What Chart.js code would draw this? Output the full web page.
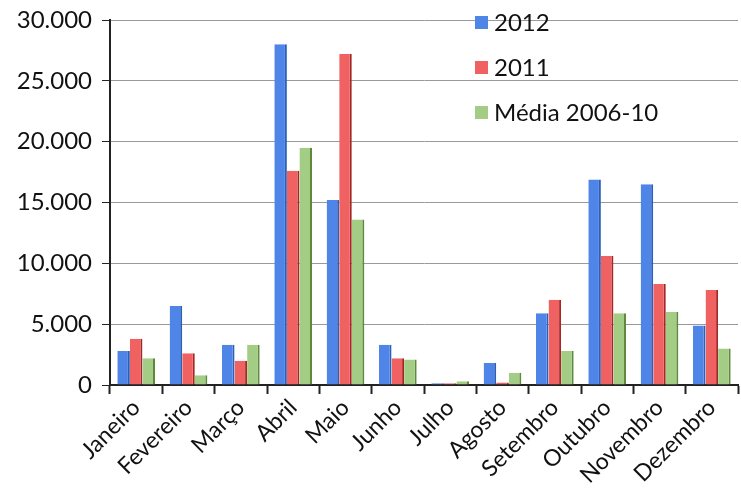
<!DOCTYPE html>
<html>
<head>
<meta charset="utf-8">
<script src="https://cdn.jsdelivr.net/npm/chart.js@4"></script>
<style>
  html, body { margin: 0; padding: 0; background: #fff; }
  #wrap { width: 741px; height: 501px; }
</style>
</head>
<body>
<div id="wrap"><canvas id="myChart" width="741" height="501"></canvas></div>
<script>
// Months (categories)
const months = ['Janeiro', 'Fevereiro', 'Março', 'Abril', 'Maio', 'Junho',
    'Julho', 'Agosto', 'Setembro', 'Outubro', 'Novembro', 'Dezembro'];

// Series values
const values2012 = [2800, 6500, 3300, 28000, 15200, 3300, 150, 1800, 5900, 16900, 16500, 4900];
const values2011 = [3800, 2600, 2000, 17600, 27200, 2200, 150, 200, 7000, 10600, 8300, 7800];
const valuesMedia = [2200, 800, 3300, 19500, 13600, 2100, 300, 1000, 2800, 5900, 6000, 3000];

const seriesLabels = ['2012', '2011', 'Média 2006-10'];
const yTicks = [0, 5000, 10000, 15000, 20000, 25000, 30000];

const fontFamily = 'Lato, "Open Sans", sans-serif';

// Simple vertical legend drawn inside the plot, like the original
const insideLegend = {
    id: 'insideLegend',
    afterDraw(chart) {
        const ctx = chart.ctx;
        const x = 475;
        let y = 23;
        ctx.save();
        ctx.font = '24px ' + fontFamily;
        ctx.textBaseline = 'middle';
        chart.data.datasets.forEach(ds => {
            ctx.fillStyle = ds.backgroundColor;
            ctx.fillRect(x, y - 7, 13, 13);
            ctx.fillStyle = '#111';
            ctx.fillText(ds.label, x + 19, y);
            y += 45;
        });
        ctx.restore();
    }
};

const ctx = document.getElementById('myChart').getContext('2d');
new Chart(ctx, {
    type: 'bar',
    data: {
        labels: months,
        datasets: [
            { label: seriesLabels[0], data: values2012, backgroundColor: '#4f85e6', borderColor: '#2c5fb8', borderWidth: { right: 2 } },
            { label: seriesLabels[1], data: values2011, backgroundColor: '#f06262', borderColor: '#a52828', borderWidth: { right: 2 } },
            { label: seriesLabels[2], data: valuesMedia, backgroundColor: '#a3cd85', borderColor: '#5f8a3e', borderWidth: { right: 2 } }
        ]
    },
    options: {
        responsive: false,
        animation: false,
        layout: { padding: { top: 20, right: 3, left: 0, bottom: 0 } },
        categoryPercentage: 0.72,
        barPercentage: 1.0,
        plugins: {
            legend: { display: false },
            tooltip: { enabled: false }
        },
        scales: {
            x: {
                grid: { display: true, drawOnChartArea: false, offset: true, tickLength: 9, tickColor: '#222', tickWidth: 2 },
                border: { color: '#222', width: 2 },
                ticks: {
                    color: '#111',
                    font: { family: fontFamily, size: 23 },
                    maxRotation: 45,
                    minRotation: 45,
                    autoSkip: false,
                    padding: 0
                },
                afterFit(scale) { scale.height = 116; }
            },
            y: {
                min: 0,
                max: 30000,
                afterBuildTicks(scale) { scale.ticks = yTicks.map(v => ({ value: v })); },
                grid: { color: '#9a9a9a', lineWidth: 1, tickLength: 8, tickColor: '#222' },
                border: { color: '#222', width: 2 },
                ticks: {
                    color: '#111',
                    font: { family: fontFamily, size: 24 },
                    padding: 10,
                    callback: v => v.toLocaleString('de-DE')
                },
                afterFit(scale) {
                    scale.width = 110;
                    scale.paddingTop = 0;
                    scale.paddingBottom = 0;
                }
            }
        }
    },
    plugins: [insideLegend]
});
</script>
</body>
</html>
